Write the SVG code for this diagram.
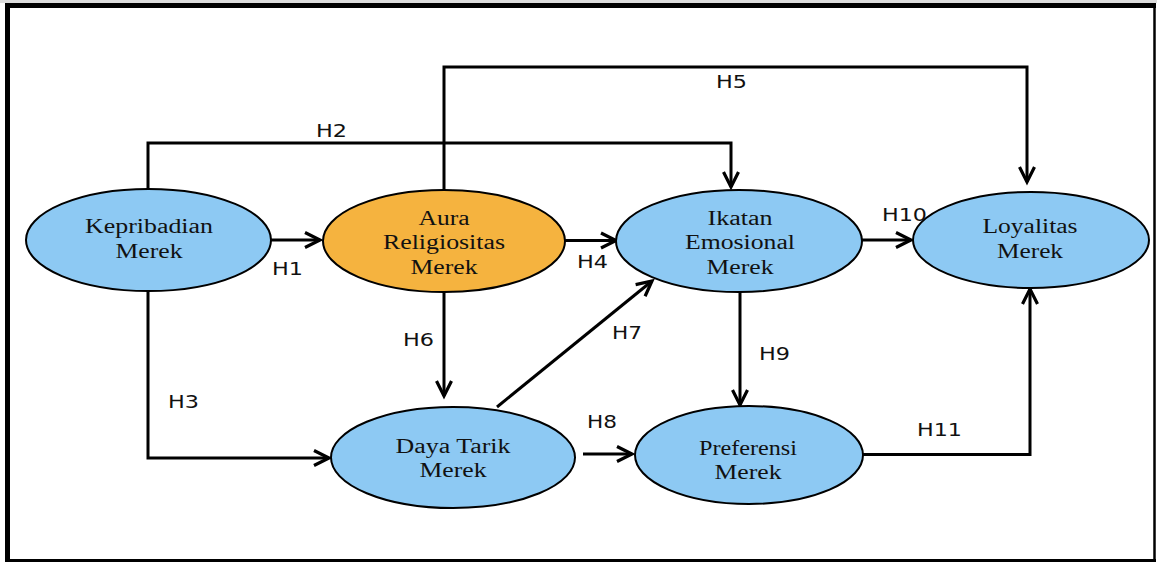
<svg xmlns="http://www.w3.org/2000/svg" width="1157" height="562" viewBox="0 0 1157 562">
  <style>
    .node-blue { fill: #8DC9F3; stroke: #000; stroke-width: 2; }
    .node-orange { fill: #F5B33F; stroke: #000; stroke-width: 2; }
    .ntext { font-family: "Liberation Serif", "Times New Roman", serif; font-size: 20px; fill: #111; text-anchor: middle; }
    .conn { fill: none; stroke: #000; stroke-width: 3; stroke-linejoin: miter; }
    .lbl { font-family: "DejaVu Sans", Verdana, sans-serif; font-size: 18px; fill: #111; }
  </style>
  <defs>
    <marker id="arr" markerUnits="userSpaceOnUse" markerWidth="24" markerHeight="20" refX="0" refY="0" viewBox="-20 -10 24 20" orient="auto" overflow="visible">
      <path d="M-15,-7.5 L0,0 L-15,7.5" fill="none" stroke="#000" stroke-width="3.2" stroke-linejoin="miter"/>
    </marker>
  </defs>
  <rect x="0" y="0" width="1157" height="562" fill="#fff"/>
  <g id="frame">
    <rect x="0" y="0" width="1157" height="3" fill="#dcdcdc"/>
    <line x1="5" y1="5.5" x2="1156" y2="5.5" stroke="#000" stroke-width="5"/>
    <line x1="7.5" y1="3" x2="7.5" y2="562" stroke="#000" stroke-width="5"/>
    <line x1="1154.5" y1="3" x2="1154.5" y2="562" stroke="#000" stroke-width="2.5"/>
    <line x1="5" y1="560.5" x2="1156" y2="560.5" stroke="#000" stroke-width="3"/>
  </g>
  <g id="connectors">
    <path class="conn" d="M271,240 H320" marker-end="url(#arr)"/>
    <path class="conn" d="M148,189 V143 H731 V187" marker-end="url(#arr)"/>
    <path class="conn" d="M148,291 V458 H329" marker-end="url(#arr)"/>
    <path class="conn" d="M565,240.5 H616" marker-end="url(#arr)"/>
    <path class="conn" d="M444,190 V67 H1027 V182" marker-end="url(#arr)"/>
    <path class="conn" d="M444,292 V396" marker-end="url(#arr)"/>
    <path class="conn" d="M497,407 L652,281" marker-end="url(#arr)"/>
    <path class="conn" d="M583,454 H632" marker-end="url(#arr)"/>
    <path class="conn" d="M740,290 V405" marker-end="url(#arr)"/>
    <path class="conn" d="M862,240 H911" marker-end="url(#arr)"/>
    <path class="conn" d="M863,454.5 H1030 V289" marker-end="url(#arr)"/>
    <text class="lbl" x="272" y="275" textLength="31" lengthAdjust="spacingAndGlyphs">H1</text>
    <text class="lbl" x="316" y="137" textLength="31" lengthAdjust="spacingAndGlyphs">H2</text>
    <text class="lbl" x="168" y="408" textLength="31" lengthAdjust="spacingAndGlyphs">H3</text>
    <text class="lbl" x="577" y="268" textLength="31" lengthAdjust="spacingAndGlyphs">H4</text>
    <text class="lbl" x="716" y="88" textLength="31" lengthAdjust="spacingAndGlyphs">H5</text>
    <text class="lbl" x="403" y="346" textLength="31" lengthAdjust="spacingAndGlyphs">H6</text>
    <text class="lbl" x="612" y="339" textLength="30" lengthAdjust="spacingAndGlyphs">H7</text>
    <text class="lbl" x="587" y="428" textLength="30" lengthAdjust="spacingAndGlyphs">H8</text>
    <text class="lbl" x="759" y="360" textLength="31" lengthAdjust="spacingAndGlyphs">H9</text>
    <text class="lbl" x="882" y="221" textLength="45" lengthAdjust="spacingAndGlyphs">H10</text>
    <text class="lbl" x="917" y="436" textLength="45" lengthAdjust="spacingAndGlyphs">H11</text>
  </g>
  <g id="kepribadian">
    <ellipse class="node-blue" cx="148.5" cy="240" rx="122.5" ry="51"/>
    <text class="ntext" x="149" y="233" textLength="128" lengthAdjust="spacingAndGlyphs">Kepribadian</text>
    <text class="ntext" x="149" y="258" textLength="67" lengthAdjust="spacingAndGlyphs">Merek</text>
  </g>
  <g id="aura">
    <ellipse class="node-orange" cx="444" cy="241" rx="121" ry="51"/>
    <text class="ntext" x="444" y="225" textLength="51" lengthAdjust="spacingAndGlyphs">Aura</text>
    <text class="ntext" x="444" y="249" textLength="122" lengthAdjust="spacingAndGlyphs">Religiositas</text>
    <text class="ntext" x="444" y="274" textLength="67" lengthAdjust="spacingAndGlyphs">Merek</text>
  </g>
  <g id="ikatan">
    <ellipse class="node-blue" cx="739" cy="241" rx="123" ry="51"/>
    <text class="ntext" x="740" y="225" textLength="65" lengthAdjust="spacingAndGlyphs">Ikatan</text>
    <text class="ntext" x="740" y="249" textLength="110" lengthAdjust="spacingAndGlyphs">Emosional</text>
    <text class="ntext" x="740" y="274" textLength="67" lengthAdjust="spacingAndGlyphs">Merek</text>
  </g>
  <g id="loyalitas">
    <ellipse class="node-blue" cx="1031" cy="240" rx="118" ry="48"/>
    <text class="ntext" x="1030" y="233" textLength="95" lengthAdjust="spacingAndGlyphs">Loyalitas</text>
    <text class="ntext" x="1030" y="258" textLength="66" lengthAdjust="spacingAndGlyphs">Merek</text>
  </g>
  <g id="dayatarik">
    <ellipse class="node-blue" cx="453" cy="457.5" rx="122" ry="50.5"/>
    <text class="ntext" x="453" y="453" textLength="115" lengthAdjust="spacingAndGlyphs">Daya Tarik</text>
    <text class="ntext" x="453" y="477" textLength="67" lengthAdjust="spacingAndGlyphs">Merek</text>
  </g>
  <g id="preferensi">
    <ellipse class="node-blue" cx="749" cy="455" rx="114" ry="49"/>
    <text class="ntext" x="748" y="455" textLength="98" lengthAdjust="spacingAndGlyphs">Preferensi</text>
    <text class="ntext" x="748" y="479" textLength="67" lengthAdjust="spacingAndGlyphs">Merek</text>
  </g>
</svg>
